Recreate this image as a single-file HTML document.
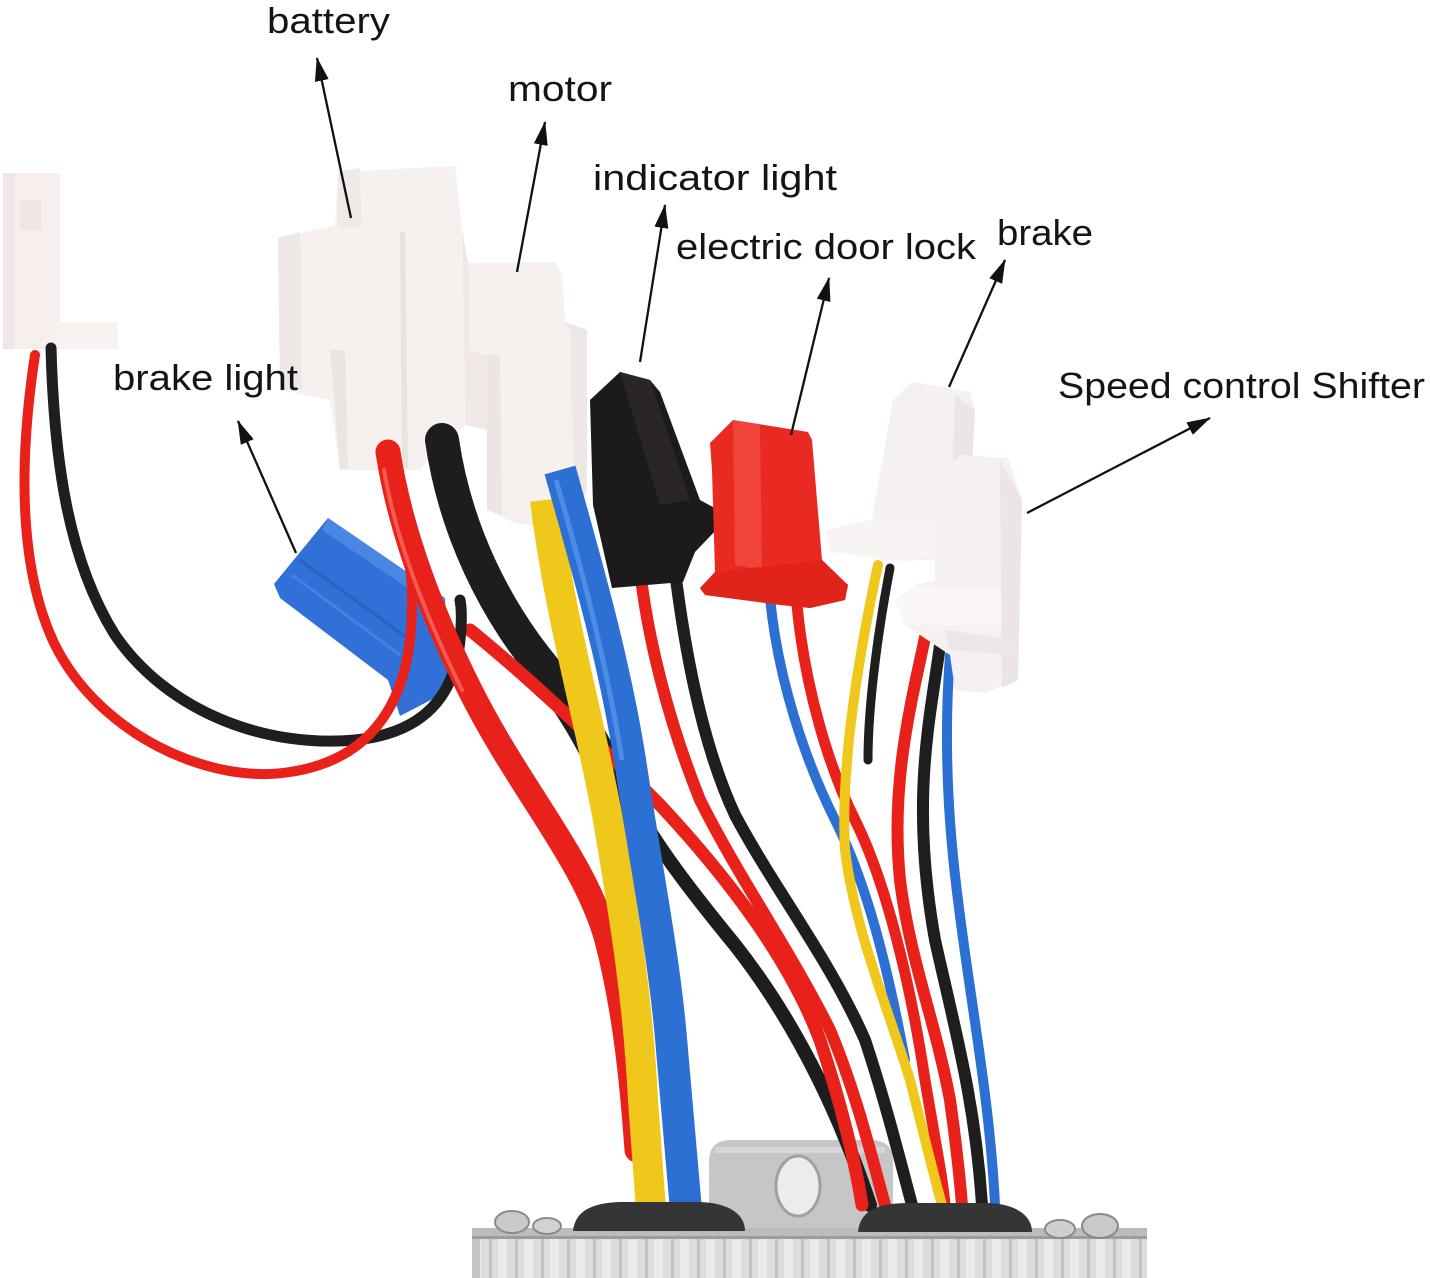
<!DOCTYPE html>
<html><head><meta charset="utf-8"><style>
html,body{margin:0;padding:0;background:#fff;}
svg{display:block;}
text{font-family:"Liberation Sans",Arial,sans-serif;fill:#141414;}
</style></head><body>
<svg width="1430" height="1278" viewBox="0 0 1430 1278" xmlns="http://www.w3.org/2000/svg">
<defs>
<marker id="ah" viewBox="0 0 24 14" refX="23" refY="7" markerWidth="24" markerHeight="14" markerUnits="userSpaceOnUse" orient="auto">
<path d="M0,0 L24,7 L0,14 z" fill="#111"/>
</marker>
<pattern id="fins" x="472" y="0" width="26" height="60" patternUnits="userSpaceOnUse">
<rect width="26" height="60" fill="#dcdcdc"/>
<rect x="0" width="9" height="60" fill="#eaeaea"/>
<rect x="17" width="3" height="60" fill="#c2c2c2"/>
</pattern>
</defs>
<rect width="1430" height="1278" fill="#fff"/>

<!-- controller mounting tab -->
<path d="M709,1240 L709,1162 Q709,1140 731,1140 L871,1140 Q893,1140 893,1162 L893,1240 Z" fill="#c6c6c6"/>
<path d="M715,1150 L885,1150" stroke="#d6d6d6" stroke-width="6"/>
<ellipse cx="798" cy="1186" rx="22" ry="30" fill="#ececec" stroke="#a0a0a0" stroke-width="3"/>

<!-- left white connector -->
<rect x="3" y="173" width="57" height="176" fill="#f6efee"/>
<rect x="3" y="173" width="12" height="176" fill="#efe6e5"/>
<rect x="20" y="200" width="22" height="30" fill="#efe7e6"/>
<rect x="56" y="322" width="62" height="27" fill="#f8f2f1"/>

<!-- battery connector -->
<path d="M278,238 L335,225 L338,172 L455,166 L462,230 L468,262 L478,263 L555,262 L562,275 L565,322 L587,330 L587,490 L575,520 L540,526 L515,523 L487,510 L487,430 L466,425 L440,445 L420,470 L340,470 L330,400 L280,390 Z" fill="#f6f0ee"/>
<path d="M278,238 L300,232 L302,390 L280,390 Z" fill="#eee7e5"/>
<path d="M338,172 L360,168 L362,228 L338,228 Z" fill="#f0e9e7"/>
<path d="M330,350 L345,350 L348,468 L340,470 Z" fill="#ebe4e2"/>
<path d="M400,232 L405,232 L408,468 L402,468 Z" fill="#e9e2e0"/>
<path d="M462,230 L468,262 L470,350 L487,355 L487,430 L466,425 Z" fill="#efe8e6"/>
<path d="M487,355 L500,355 L502,515 L487,510 Z" fill="#ece5e3"/>
<path d="M565,322 L587,330 L587,490 L575,520 L570,330 Z" fill="#eee7e5"/>

<!-- battery thick black -->
<path d="M442,440 C455,530 495,610 545,670 C585,720 605,770 635,820" fill="none" stroke="#1d1d1d" stroke-width="34" stroke-linecap="round"/>
<path d="M640,815 C660,850 690,890 735,945 C790,1015 835,1100 870,1205" fill="none" stroke="#1d1d1d" stroke-width="14" stroke-linecap="round"/>
<!-- red E brake-light diagonal -->
<path d="M470,630 C520,670 590,735 660,805 C730,880 790,960 820,1040 C840,1100 855,1160 862,1205" fill="none" stroke="#e8211b" stroke-width="13" stroke-linecap="round"/>

<!-- blue connector (brake light) -->
<path d="M328,518 L445,598 L450,690 L400,716 L388,680 L280,598 L274,584 Z" fill="#3170d6"/>
<path d="M328,518 L445,598 L440,610 L322,530 Z" fill="#4a86e4"/>
<path d="M300,560 L410,640" stroke="#2a62c0" stroke-width="3"/>
<path d="M292,575 L400,655" stroke="#4581e0" stroke-width="3"/>

<!-- black loop -->
<path d="M51,348 C54,460 68,560 115,635 C170,715 270,748 355,740 C415,734 448,705 458,655 C462,630 462,610 460,600" fill="none" stroke="#1e1e1e" stroke-width="11" stroke-linecap="round"/>
<!-- red loop -->
<path d="M35,355 C22,440 14,560 55,645 C100,735 210,785 290,772 C370,760 405,705 411,630 C414,585 410,560 405,540" fill="none" stroke="#e8211b" stroke-width="10" stroke-linecap="round"/>

<!-- battery thick red -->
<path d="M388,452 C400,530 430,610 470,690 C520,790 585,860 607,940 C625,1010 632,1080 637,1150" fill="none" stroke="#e8211b" stroke-width="25" stroke-linecap="round"/>
<path d="M384,470 C396,540 424,612 462,690" fill="none" stroke="#f45a50" stroke-width="4" stroke-linecap="round"/>

<!-- motor yellow / blue -->
<path d="M545,500 C560,620 590,720 608,820 C625,920 638,1000 643,1100 L651,1210" fill="none" stroke="#f0c81b" stroke-width="30" stroke-linecap="butt"/>
<path d="M560,470 C588,570 614,660 630,760 C648,880 665,960 672,1050 L686,1210" fill="none" stroke="#2d70d4" stroke-width="32" stroke-linecap="butt"/>
<path d="M556,480 C582,570 606,660 622,760" fill="none" stroke="#4f8ce6" stroke-width="5"/>

<!-- indicator wires -->
<path d="M640,570 C648,640 668,720 700,800 C740,880 790,950 830,1030 C855,1090 870,1150 885,1205" fill="none" stroke="#e8211b" stroke-width="12" stroke-linecap="round"/>
<path d="M673,555 C683,640 700,740 735,815 C775,890 830,960 865,1040 C885,1100 900,1160 912,1205" fill="none" stroke="#1e1e1e" stroke-width="12" stroke-linecap="round"/>

<!-- indicator connector (black) -->
<path d="M590,400 L620,372 L650,380 L660,392 L700,500 L722,512 L718,528 L695,552 L683,582 L612,588 L593,505 Z" fill="#1c1a1a"/>
<path d="M620,372 L650,380 L690,500 L660,505 Z" fill="#2a2626"/>

<!-- door lock wires -->
<path d="M770,598 C778,680 805,760 835,820 C870,890 890,980 905,1060" fill="none" stroke="#2d70d4" stroke-width="10" stroke-linecap="round"/>
<path d="M797,605 C805,690 830,770 855,820 C885,880 910,980 925,1080 C935,1140 943,1180 945,1205" fill="none" stroke="#e8211b" stroke-width="11" stroke-linecap="round"/>

<!-- door lock connector (red) -->
<path d="M710,443 L733,420 L808,432 L812,440 L822,560 L848,585 L845,600 L810,608 L780,605 L705,595 L700,588 L715,572 L712,470 Z" fill="#e92a22"/>
<path d="M733,420 L760,425 L762,570 L735,565 Z" fill="#f0443a"/>
<path d="M700,588 L715,572 L822,560 L848,585 L845,600 L810,608 L705,595 Z" fill="#e0241c"/>

<!-- brake / shifter wires -->
<path d="M890,568 C880,620 868,700 868,760" fill="none" stroke="#1e1e1e" stroke-width="9" stroke-linecap="round"/>
<path d="M878,565 C862,640 840,760 845,850 C855,930 885,1000 910,1080 C925,1140 935,1180 942,1205" fill="none" stroke="#f0c81b" stroke-width="10" stroke-linecap="round"/>
<path d="M950,655 C945,720 945,800 958,900 C970,1000 990,1100 995,1205" fill="none" stroke="#2d70d4" stroke-width="10" stroke-linecap="round"/>
<path d="M927,628 C912,700 890,780 900,880 C910,960 935,1020 950,1100 C957,1150 960,1180 962,1205" fill="none" stroke="#e8211b" stroke-width="12" stroke-linecap="round"/>
<path d="M940,645 C930,720 910,800 935,940 C955,1030 975,1100 982,1205" fill="none" stroke="#1e1e1e" stroke-width="12" stroke-linecap="round"/>

<!-- brake connector -->
<path d="M893,400 L912,382 L970,392 L975,410 L968,540 L940,560 L880,560 L870,530 Z" fill="#f5f1f0"/>
<path d="M826,530 L870,520 L950,522 L955,545 L910,562 L830,552 Z" fill="#f8f4f3"/>
<path d="M955,395 L975,410 L968,540 L950,545 Z" fill="#ebe6e5"/>
<!-- shifter connector -->
<path d="M945,470 L960,455 L1008,458 L1022,500 L1020,600 L1015,640 L1015,680 L985,693 L955,690 L950,655 L905,625 L895,600 L915,585 L935,580 L935,520 Z" fill="#f5f1f0"/>
<path d="M895,600 L915,585 L1018,592 L1020,625 L905,625 Z" fill="#f9f6f5"/>
<path d="M1000,460 L1022,500 L1018,680 L1002,688 Z" fill="#ebe6e5"/>
<path d="M945,630 L1015,640 L1015,655 L950,650 Z" fill="#ece7e6"/>

<!-- controller box -->
<rect x="472" y="1228" width="675" height="50" fill="url(#fins)"/>
<rect x="472" y="1228" width="675" height="11" fill="#bcbcbc"/>
<rect x="472" y="1236" width="675" height="3" fill="#9c9c9c"/>
<rect x="472" y="1239" width="8" height="39" fill="#c4c4c4"/>
<!-- grommets -->
<path d="M573,1231 C575,1212 590,1203 620,1202 L700,1202 C730,1203 745,1215 745,1231 Z" fill="#353535"/>
<path d="M858,1232 C860,1212 875,1204 905,1203 L990,1203 C1020,1205 1032,1218 1032,1232 Z" fill="#353535"/>
<!-- screws -->
<ellipse cx="512" cy="1222" rx="17" ry="11" fill="#c9c9c9" stroke="#8a8a8a" stroke-width="2"/>
<ellipse cx="547" cy="1226" rx="14" ry="8" fill="#d2d2d2" stroke="#8a8a8a" stroke-width="2"/>
<ellipse cx="1060" cy="1229" rx="15" ry="9" fill="#cfcfcf" stroke="#8a8a8a" stroke-width="2"/>
<ellipse cx="1100" cy="1226" rx="18" ry="12" fill="#c9c9c9" stroke="#8a8a8a" stroke-width="2"/>

<!-- arrows -->
<g stroke="#111" stroke-width="2.3" fill="none" marker-end="url(#ah)">
<line x1="351" y1="218" x2="317" y2="58"/>
<line x1="517" y1="272" x2="545" y2="122"/>
<line x1="640" y1="362" x2="665" y2="205"/>
<line x1="791" y1="435" x2="829" y2="278"/>
<line x1="949" y1="387" x2="1005" y2="260"/>
<line x1="1027" y1="513" x2="1210" y2="418"/>
<line x1="296" y1="553" x2="238" y2="421"/>
</g>

<!-- labels -->
<g font-size="36">
<text x="267" y="33" textLength="123" lengthAdjust="spacingAndGlyphs">battery</text>
<text x="508" y="101" textLength="104" lengthAdjust="spacingAndGlyphs">motor</text>
<text x="593" y="190" textLength="244" lengthAdjust="spacingAndGlyphs">indicator light</text>
<text x="676" y="259" textLength="300" lengthAdjust="spacingAndGlyphs">electric door lock</text>
<text x="997" y="245" textLength="96" lengthAdjust="spacingAndGlyphs">brake</text>
<text x="113" y="390" textLength="185" lengthAdjust="spacingAndGlyphs">brake light</text>
<text x="1058" y="398" textLength="367" lengthAdjust="spacingAndGlyphs">Speed control Shifter</text>
</g>
</svg>
</body></html>
